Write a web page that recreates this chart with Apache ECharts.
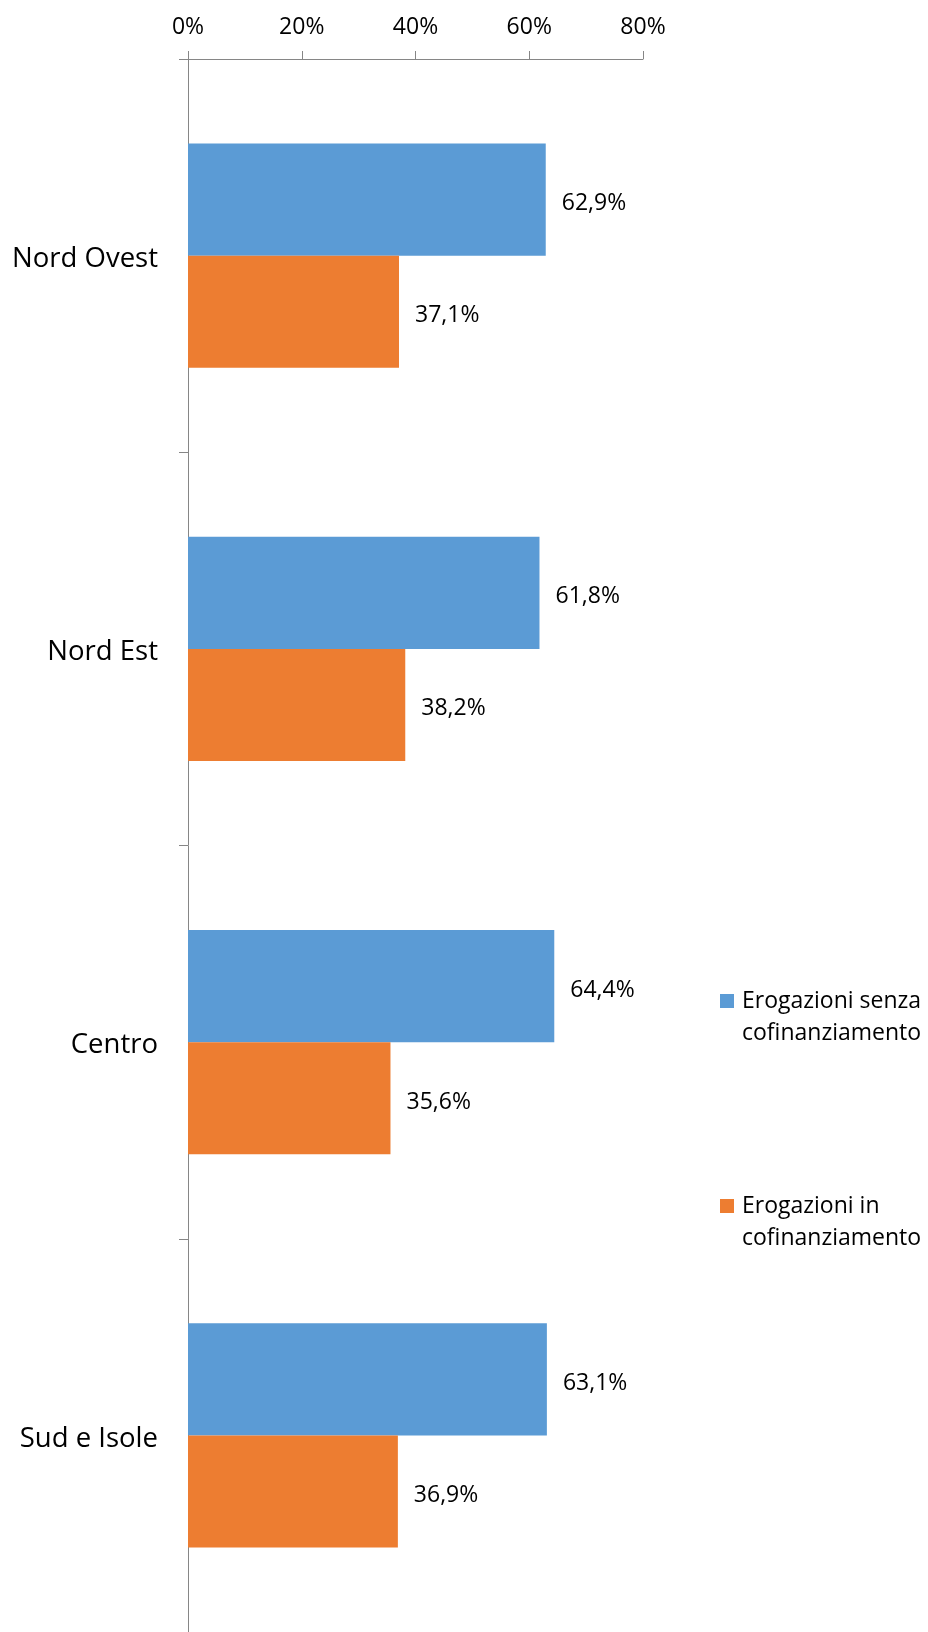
<!DOCTYPE html>
<html><head><meta charset="utf-8">
<script src="https://cdn.jsdelivr.net/npm/echarts@6/dist/echarts.min.js"></script>
<style>html,body{margin:0;padding:0;background:#fff}#c{width:928px;height:1632px}</style>
</head><body><div id="c"></div>
<script>
const categories = ['Nord Ovest', 'Nord Est', 'Centro', 'Sud e Isole'];
const senzaCofin = [62.9, 61.8, 64.4, 63.1];
const inCofin = [37.1, 38.2, 35.6, 36.9];
const seriesNames = ['Erogazioni senza cofinanziamento', 'Erogazioni in cofinanziamento'];
const xTicks = [0, 20, 40, 60, 80];

const FONT = 'Open Sans';
const chart = echarts.init(document.getElementById('c'), null, {renderer: 'canvas'});
const lbl = {
  show: true, position: 'right', distance: 16, offset: [0, 4],
  fontFamily: FONT, fontSize: 23, color: '#000',
  formatter: p => p.value.toFixed(1).replace('.', ',') + '%'
};
chart.setOption({
  animation: false,
  backgroundColor: '#fff',
  grid: {left: 188, top: 59, width: 455, height: 1576},
  legend: {
    orient: 'vertical', left: 715, top: 948,
    itemWidth: 14, itemHeight: 14, itemGap: 109,
    icon: 'rect',
    data: seriesNames,
    formatter: n => {
      const i = n.lastIndexOf(' ');
      return '{a|}\n{a|' + n.slice(0, i) + '}\n{a|' + n.slice(i + 1) + '}';
    },
    textStyle: {fontFamily: FONT, fontSize: 23, color: '#000', lineHeight: 32,
      rich: {a: {fontFamily: FONT, fontSize: 23, color: '#000', lineHeight: 32, padding: [0, 0, 0, 3]}}}
  },
  xAxis: {
    type: 'value', position: 'top', min: xTicks[0], max: xTicks[xTicks.length - 1], interval: 20,
    axisLine: {show: true, lineStyle: {color: '#868686', width: 1}},
    axisTick: {show: true, length: 8, lineStyle: {color: '#868686'}},
    splitLine: {show: false},
    axisLabel: {margin: 20, fontFamily: FONT, fontSize: 23, color: '#000', formatter: '{value}%'}
  },
  yAxis: {
    type: 'category', inverse: true, data: categories,
    axisLine: {show: true, lineStyle: {color: '#868686', width: 1}},
    axisTick: {show: true, length: 9, lineStyle: {color: '#868686'}},
    axisLabel: {margin: 30, fontFamily: FONT, fontSize: 27.5, color: '#000',
      formatter: v => '{a|' + v + '}',
      rich: {a: {fontFamily: FONT, fontSize: 27.5, color: '#000', padding: [7, 0, 0, 0]}}}
  },
  series: [
    {name: seriesNames[0], type: 'bar', data: senzaCofin, barGap: '0%', barCategoryGap: '43%',
     itemStyle: {color: '#5B9BD5'}, label: lbl},
    {name: seriesNames[1], type: 'bar', data: inCofin, barGap: '0%', barCategoryGap: '43%',
     itemStyle: {color: '#ED7D31'}, label: lbl}
  ]
});
</script></body></html>
